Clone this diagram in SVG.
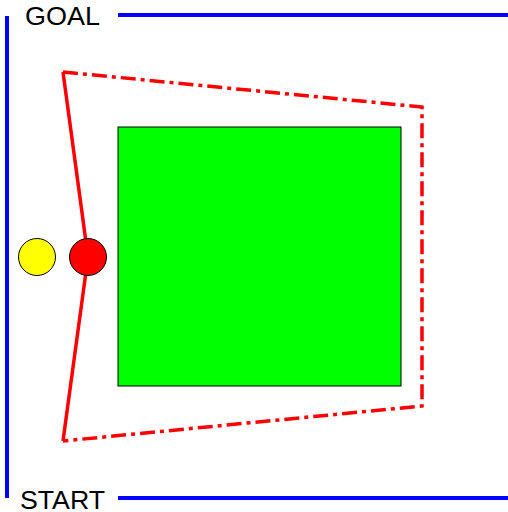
<svg xmlns="http://www.w3.org/2000/svg" width="508" height="512" viewBox="0 0 508 512">
<style>
.wall{stroke:#0000ff;stroke-width:4;fill:none}
.lbl{font-family:"Liberation Sans",Arial,sans-serif;font-size:26px;fill:#000}
.path{stroke:#ff0000;stroke-width:3.5;fill:none}
.dd{stroke-dasharray:15 5 4 5}
</style>
<rect width="508" height="512" fill="#fff"/>
<g id="connectors">
<line class="wall" x1="7" y1="16" x2="7" y2="498"/>
<line class="wall" x1="118" y1="15" x2="508" y2="15"/>
<line class="wall" x1="118" y1="498" x2="508" y2="498"/>
<polyline class="path" points="63,72 88,257 63,441"/>
<polyline class="path dd" points="63,72 422,107 422,406 63,441"/>
</g>
<g id="goal"><text class="lbl" x="25" y="25" textLength="75" lengthAdjust="spacingAndGlyphs">GOAL</text></g>
<g id="start"><text class="lbl" x="20" y="509" textLength="85" lengthAdjust="spacingAndGlyphs">START</text></g>
<g id="obstacle"><rect x="118" y="127" width="283" height="259" fill="#00ff00" stroke="#000" stroke-width="1"/></g>
<g id="yellow"><circle cx="37" cy="257" r="18.5" fill="#ffff00" stroke="#000" stroke-width="1"/></g>
<g id="red"><circle cx="88" cy="257" r="18.5" fill="#ff0000" stroke="#000" stroke-width="1"/></g>
</svg>
